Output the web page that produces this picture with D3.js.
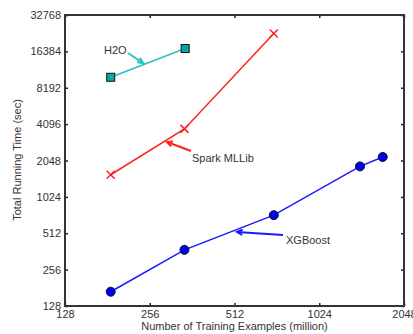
<!DOCTYPE html>
<html><head><meta charset="utf-8">
<script src="https://cdn.jsdelivr.net/npm/d3@7"></script>
<style>body{margin:0;background:#fff}svg{display:block}text{font-family:"Liberation Sans",Arial,sans-serif;fill:#333}</style>
</head><body><svg id="c" width="413" height="334"></svg>
<script>
const xTicks = [128, 256, 512, 1024, 2048];
const yTicks = [128, 256, 512, 1024, 2048, 4096, 8192, 16384, 32768];
const xgbX = [186, 340, 706, 1429, 1721];
const xgbY = [168, 373, 723, 1830, 2190];
const sparkX = [186, 340, 706];
const sparkY = [1561, 3740, 23050];
const h2oX = [186, 342];
const h2oY = [10000, 17300];
const labels = ["H2O", "Spark MLLib", "XGBoost"];

const svg = d3.select("#c");
const L = 65, R = 404, T = 15, B = 306;
const x = d3.scaleLog().base(2).domain([128, 2048]).range([L, R]);
const y = d3.scaleLog().base(2).domain([128, 32768]).range([B, T]);

// axes
const ax = svg.append("g");
ax.append("g").attr("transform", `translate(0,${B})`)
  .call(d3.axisBottom(x).tickValues(xTicks).tickFormat(d3.format("d")).tickSizeInner(-3).tickSizeOuter(0).tickPadding(4));
ax.append("g").attr("transform", `translate(${L},0)`)
  .call(d3.axisLeft(y).tickValues(yTicks).tickFormat(d3.format("d")).tickSizeInner(-3).tickSizeOuter(0).tickPadding(4));
ax.append("g").attr("transform", `translate(0,${T})`)
  .call(d3.axisTop(x).tickValues(xTicks).tickFormat("").tickSizeInner(-3).tickSizeOuter(0));
ax.append("g").attr("transform", `translate(${R},0)`)
  .call(d3.axisRight(y).tickValues(yTicks).tickFormat("").tickSizeInner(-3).tickSizeOuter(0));
ax.selectAll(".domain").remove();
ax.selectAll(".tick line").attr("stroke", "#222").attr("stroke-width", 1.5);
ax.selectAll(".tick text").attr("font-size", 11).attr("fill", "#333").style("font-family", '"Liberation Sans",Arial,sans-serif');
svg.append("rect").attr("x", L).attr("y", T).attr("width", R - L).attr("height", B - T)
  .attr("fill", "none").attr("stroke", "#333").attr("stroke-width", 2);

// axis titles
svg.append("text").attr("x", (L + R) / 2 + 0).attr("y", 330).attr("text-anchor", "middle")
  .attr("font-size", 11).text("Number of Training Examples (million)");
svg.append("text").attr("transform", `translate(21,${160}) rotate(-90)`).attr("text-anchor", "middle")
  .attr("font-size", 11).text("Total Running Time (sec)");

const line = d3.line().x(d => x(d[0])).y(d => y(d[1]));
const zip = (a, b) => a.map((v, i) => [v, b[i]]);

// H2O
const h2o = zip(h2oX, h2oY);
svg.append("path").attr("d", line(h2o)).attr("fill", "none").attr("stroke", "#22c4c4").attr("stroke-width", 1.5);
svg.selectAll(".sq").data(h2o).join("rect").attr("x", d => x(d[0]) - 4).attr("y", d => y(d[1]) - 4)
  .attr("width", 8).attr("height", 8).attr("fill", "#0aa6a6").attr("stroke", "#111").attr("stroke-width", 1);

// Spark
const spark = zip(sparkX, sparkY);
svg.append("path").attr("d", line(spark)).attr("fill", "none").attr("stroke", "#ff2020").attr("stroke-width", 1.5);
spark.forEach(d => {
  const cx = x(d[0]), cy = y(d[1]), s = 4;
  svg.append("path").attr("d", `M${cx - s},${cy - s}L${cx + s},${cy + s}M${cx - s},${cy + s}L${cx + s},${cy - s}`)
    .attr("stroke", "#ff2020").attr("stroke-width", 1.5);
});

// XGBoost
const xgb = zip(xgbX, xgbY);
svg.append("path").attr("d", line(xgb)).attr("fill", "none").attr("stroke", "#1a1aff").attr("stroke-width", 1.5);
svg.selectAll(".dot").data(xgb).join("circle").attr("cx", d => x(d[0])).attr("cy", d => y(d[1]))
  .attr("r", 4.5).attr("fill", "#0000ee").attr("stroke", "#111").attr("stroke-width", 1);

// annotation arrows
function arrow(x1, y1, x2, y2, color) {
  svg.append("line").attr("x1", x1).attr("y1", y1).attr("x2", x2).attr("y2", y2)
    .attr("stroke", color).attr("stroke-width", 2);
  const a = Math.atan2(y2 - y1, x2 - x1), h = 6, w = 0.45;
  const p1 = [x2 - h * Math.cos(a - w), y2 - h * Math.sin(a - w)];
  const p2 = [x2 - h * Math.cos(a + w), y2 - h * Math.sin(a + w)];
  svg.append("path").attr("d", `M${p1[0]},${p1[1]}L${x2},${y2}L${p2[0]},${p2[1]}`)
    .attr("fill", "none").attr("stroke", color).attr("stroke-width", 2);
}
arrow(128, 53, 143, 63, "#22c4c4");
arrow(191, 151, 167, 142, "#ff2020");
arrow(283, 235, 237, 232, "#1a1aff");

svg.append("text").attr("x", 104).attr("y", 54).attr("font-size", 11).text(labels[0]);
svg.append("text").attr("x", 192).attr("y", 162).attr("font-size", 11).text(labels[1]);
svg.append("text").attr("x", 286).attr("y", 244).attr("font-size", 11).text(labels[2]);
</script></body></html>
